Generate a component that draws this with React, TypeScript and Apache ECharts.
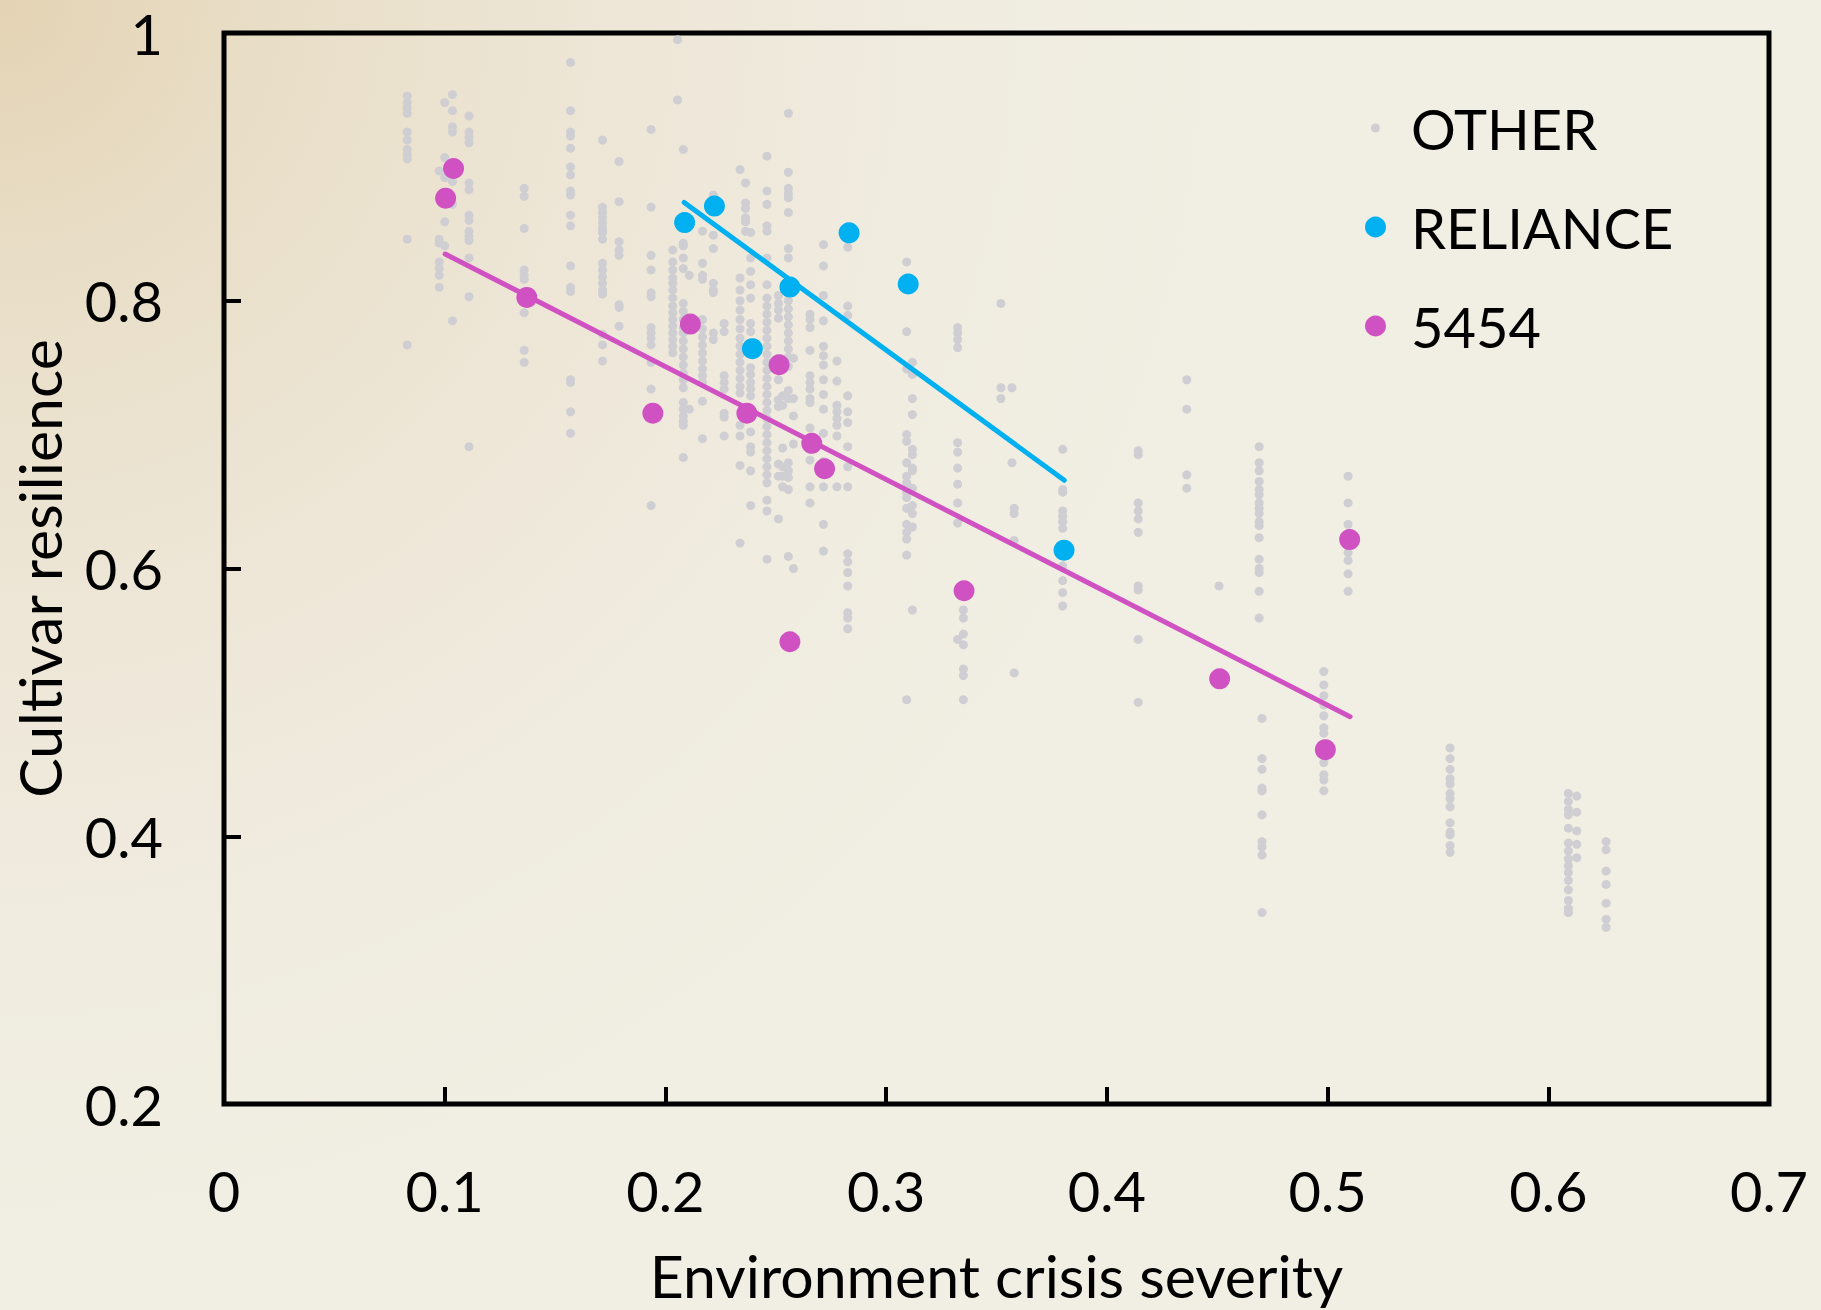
import React, { useEffect, useRef } from "react";
import * as echarts from "echarts";

// ---- Data ----
const seriesNames = ["OTHER", "RELIANCE", "5454"];
const xAxisTitle = "Environment crisis severity";
const yAxisTitle = "Cultivar resilience";

// OTHER: columns of points, [x, list of y values]
const otherColumns: [number, number[]][] = [
  [0.083, [0.953, 0.948, 0.944, 0.94, 0.926, 0.92, 0.913, 0.909, 0.906, 0.846, 0.767]],
  [0.0975, [0.897, 0.846, 0.843, 0.829, 0.824, 0.819, 0.81]],
  [0.1, [0.948, 0.907, 0.892, 0.859, 0.841]],
  [0.1035, [0.954, 0.942, 0.93, 0.926, 0.889, 0.872, 0.785]],
  [0.111, [0.938, 0.926, 0.922, 0.918, 0.888, 0.883, 0.864, 0.86, 0.852, 0.848, 0.845, 0.832, 0.803, 0.691]],
  [0.136, [0.884, 0.878, 0.854, 0.823, 0.819, 0.816, 0.791, 0.763, 0.754]],
  [0.157, [0.978, 0.942, 0.926, 0.923, 0.914, 0.9, 0.894, 0.882, 0.879, 0.864, 0.856, 0.826, 0.81, 0.807, 0.741, 0.739, 0.717, 0.701]],
  [0.1715, [0.92, 0.87, 0.866, 0.862, 0.858, 0.854, 0.851, 0.846, 0.828, 0.823, 0.818, 0.813, 0.808, 0.805, 0.775, 0.767, 0.755]],
  [0.179, [0.904, 0.874, 0.844, 0.838, 0.834, 0.797, 0.795, 0.781]],
  [0.1935, [0.928, 0.87, 0.834, 0.823, 0.806, 0.803, 0.78, 0.776, 0.772, 0.767, 0.754, 0.734, 0.647]],
  [0.2033, [0.838, 0.829, 0.823, 0.817, 0.813, 0.808, 0.802, 0.796, 0.791, 0.786, 0.781, 0.776, 0.771, 0.766, 0.761]],
  [0.2055, [0.995, 0.95]],
  [0.2081, [0.913, 0.843, 0.841, 0.832, 0.824, 0.798, 0.792, 0.786, 0.78, 0.776, 0.77, 0.764, 0.758, 0.752, 0.746, 0.741, 0.735, 0.724, 0.719, 0.714, 0.71, 0.707, 0.683]],
  [0.2108, [0.819, 0.719]],
  [0.2168, [0.852, 0.828, 0.819, 0.816, 0.786, 0.779, 0.773, 0.767, 0.761, 0.755, 0.749, 0.744, 0.739, 0.725, 0.697]],
  [0.2217, [0.879, 0.849, 0.839, 0.813, 0.808, 0.806, 0.776, 0.771]],
  [0.2266, [0.783, 0.777, 0.744, 0.739, 0.734, 0.716, 0.713, 0.699]],
  [0.2338, [0.898, 0.817, 0.808, 0.8, 0.793, 0.786, 0.779, 0.772, 0.766, 0.76, 0.754, 0.748, 0.742, 0.736, 0.731, 0.707, 0.699, 0.677, 0.619]],
  [0.2363, [0.888, 0.873, 0.869, 0.862, 0.859, 0.852]],
  [0.2386, [0.851, 0.832, 0.822, 0.812, 0.802, 0.783, 0.777, 0.75, 0.745, 0.739, 0.734, 0.729, 0.702, 0.691, 0.687, 0.673, 0.647]],
  [0.246, [0.908, 0.882, 0.872, 0.856, 0.852, 0.832, 0.812, 0.802, 0.796, 0.79, 0.784, 0.778, 0.772, 0.766, 0.76, 0.754, 0.748, 0.742, 0.736, 0.73, 0.724, 0.718, 0.712, 0.706, 0.7, 0.694, 0.688, 0.682, 0.676, 0.67, 0.664, 0.651, 0.643, 0.607]],
  [0.2512, [0.804, 0.798, 0.793, 0.787, 0.741, 0.726, 0.721, 0.678, 0.669, 0.637]],
  [0.2531, [0.729, 0.722, 0.69, 0.676, 0.669, 0.661]],
  [0.2557, [0.94, 0.896, 0.884, 0.88, 0.877, 0.866, 0.839, 0.832, 0.8, 0.794, 0.788, 0.782, 0.776, 0.77, 0.764, 0.758, 0.751, 0.733, 0.727, 0.679, 0.673, 0.668, 0.659, 0.609]],
  [0.258, [0.757, 0.727, 0.714, 0.693, 0.6]],
  [0.2655, [0.79, 0.786, 0.78, 0.763, 0.744, 0.739, 0.734, 0.727, 0.724, 0.705, 0.689, 0.681, 0.661, 0.649]],
  [0.2716, [0.842, 0.826, 0.804, 0.785, 0.766, 0.759, 0.752, 0.741, 0.73, 0.719, 0.701, 0.68, 0.661, 0.633, 0.613]],
  [0.2777, [0.755, 0.74, 0.722, 0.717, 0.712, 0.707, 0.699, 0.661]],
  [0.2826, [0.84, 0.796, 0.789, 0.729, 0.717, 0.709, 0.691, 0.676, 0.661, 0.611, 0.605, 0.597, 0.587, 0.567, 0.563, 0.555]],
  [0.3093, [0.829, 0.777, 0.749, 0.7, 0.695, 0.679, 0.669, 0.664, 0.657, 0.653, 0.645, 0.633, 0.627, 0.622, 0.61, 0.502]],
  [0.3119, [0.754, 0.745, 0.727, 0.715, 0.689, 0.685, 0.675, 0.673, 0.66, 0.647, 0.641, 0.631, 0.569]],
  [0.3324, [0.78, 0.776, 0.771, 0.765, 0.694, 0.687, 0.675, 0.663, 0.649, 0.634, 0.547]],
  [0.335, [0.569, 0.563, 0.551, 0.543, 0.525, 0.52, 0.502]],
  [0.352, [0.798, 0.735, 0.727]],
  [0.357, [0.735, 0.679]],
  [0.358, [0.645, 0.641, 0.621, 0.522]],
  [0.38, [0.689, 0.659, 0.657, 0.643, 0.639, 0.635, 0.63, 0.602, 0.591, 0.582, 0.572]],
  [0.4142, [0.688, 0.685, 0.649, 0.643, 0.637, 0.627, 0.587, 0.584, 0.547, 0.5]],
  [0.4362, [0.741, 0.719, 0.67, 0.66]],
  [0.4508, [0.587]],
  [0.469, [0.691, 0.679, 0.673, 0.665, 0.659, 0.655, 0.649, 0.645, 0.641, 0.635, 0.632, 0.623, 0.607, 0.6, 0.597, 0.583, 0.563]],
  [0.4703, [0.488, 0.458, 0.45, 0.436, 0.434, 0.416, 0.396, 0.392, 0.386, 0.343]],
  [0.4983, [0.523, 0.513, 0.505, 0.498, 0.49, 0.481, 0.477, 0.455, 0.446, 0.442, 0.434]],
  [0.5093, [0.669, 0.649, 0.633, 0.612, 0.606, 0.596, 0.583]],
  [0.5555, [0.466, 0.458, 0.45, 0.443, 0.439, 0.432, 0.428, 0.422, 0.41, 0.403, 0.401, 0.393, 0.388]],
  [0.6091, [0.432, 0.426, 0.42, 0.416, 0.406, 0.395, 0.389, 0.383, 0.378, 0.373, 0.367, 0.36, 0.352, 0.346, 0.343]],
  [0.6129, [0.43, 0.418, 0.404, 0.394, 0.384]],
  [0.6262, [0.396, 0.39, 0.374, 0.364, 0.35, 0.338, 0.332]],
];

const relianceX = [0.2087, 0.2222, 0.2394, 0.2564, 0.2832, 0.31, 0.3806];
const relianceY = [0.8584, 0.8707, 0.7642, 0.8102, 0.8507, 0.8125, 0.6137];

const v5454X = [0.1004, 0.104, 0.1372, 0.1943, 0.2113, 0.2369, 0.2515, 0.2564, 0.2663, 0.2721, 0.3353, 0.4511, 0.499, 0.51];
const v5454Y = [0.8766, 0.8988, 0.8025, 0.716, 0.7826, 0.716, 0.7522, 0.5453, 0.6935, 0.6745, 0.5834, 0.5176, 0.4647, 0.6216];

const relianceTrendX = [0.2085, 0.3807];
const relianceTrendY = [0.8734, 0.6659];
const trend5454X = [0.1002, 0.5102];
const trend5454Y = [0.8349, 0.4893];

const xMin = 0, xMax = 0.7, xStep = 0.1;
const yMin = 0.2, yMax = 1, yStep = 0.2;

// ---- Styling ----
const FONT = "Lato";
const GRAY = "#cfced2";
const BLUE = "#00b0f0";
const MAGENTA = "#d052c2";

const zip = (xs: number[], ys: number[]) => xs.map((x, i) => [x, ys[i]]);

export default function App() {
  const ref = useRef<HTMLDivElement>(null);

  useEffect(() => {
    document.body.style.margin = "0";
    if (!ref.current) return;
    const chart = echarts.init(ref.current, undefined, { renderer: "svg" });

    const otherData: number[][] = [];
    otherColumns.forEach(([x, ys]) => ys.forEach((y) => otherData.push([x, y])));

    const fmt = (v: number) => String(Math.round(v * 10) / 10);

    const option: any = {
      animation: false,
      backgroundColor: "transparent",
      textStyle: { fontFamily: FONT },
      grid: {
        left: 224,
        top: 33,
        right: 52,
        bottom: 204,
        show: true,
        borderColor: "#000",
        borderWidth: 5,
        backgroundColor: "transparent",
      },
      xAxis: {
        type: "value",
        min: xMin,
        max: xMax,
        interval: xStep,
        name: xAxisTitle,
        nameLocation: "middle",
        nameGap: 142,
        nameTextStyle: { fontFamily: FONT, fontSize: 59, color: "#000" },
        axisLine: { show: false },
        axisTick: { show: true, inside: true, length: 17, lineStyle: { color: "#000", width: 4 } },
        axisLabel: { margin: 58, fontFamily: FONT, fontSize: 56, color: "#000", formatter: fmt },
        splitLine: { show: false },
      },
      yAxis: {
        type: "value",
        min: yMin,
        max: yMax,
        interval: yStep,
        name: yAxisTitle,
        nameLocation: "middle",
        nameGap: 155,
        nameTextStyle: { fontFamily: FONT, fontSize: 59, color: "#000" },
        axisLine: { show: false },
        axisTick: { show: true, inside: true, length: 17, lineStyle: { color: "#000", width: 4 } },
        axisLabel: { margin: 61, fontFamily: FONT, fontSize: 56, color: "#000", formatter: fmt },
        splitLine: { show: false },
      },
      legend: {
        orient: "vertical",
        left: 1360,
        top: 95,
        itemWidth: 21,
        itemHeight: 21,
        itemGap: 43,
        data: [
          { name: seriesNames[0], icon: "path://M0,0M21,21M6,10.5a4.5,4.5 0 1,0 9,0a4.5,4.5 0 1,0 -9,0Z" },
          { name: seriesNames[1], icon: "circle" },
          { name: seriesNames[2], icon: "circle" },
        ],
        textStyle: { fontFamily: FONT, fontSize: 56, color: "#000", lineHeight: 56, padding: [0, 0, 0, 20] },
      },
      series: [
        {
          name: seriesNames[0],
          type: "scatter",
          data: otherData,
          symbolSize: 9,
          itemStyle: { color: GRAY, opacity: 1 },
          z: 1,
        },
        {
          name: "RELIANCE trend",
          type: "line",
          data: zip(relianceTrendX, relianceTrendY),
          showSymbol: false,
          symbol: "none",
          lineStyle: { color: BLUE, width: 5, cap: "round" },
          itemStyle: { color: BLUE },
          z: 2,
        },
        {
          name: "5454 trend",
          type: "line",
          data: zip(trend5454X, trend5454Y),
          showSymbol: false,
          symbol: "none",
          lineStyle: { color: MAGENTA, width: 5, cap: "round" },
          itemStyle: { color: MAGENTA },
          z: 2,
        },
        {
          name: seriesNames[1],
          type: "scatter",
          data: zip(relianceX, relianceY),
          symbolSize: 21,
          itemStyle: { color: BLUE, opacity: 1 },
          z: 3,
        },
        {
          name: seriesNames[2],
          type: "scatter",
          data: zip(v5454X, v5454Y),
          symbolSize: 21,
          itemStyle: { color: MAGENTA, opacity: 1 },
          z: 3,
        },
      ],
    };

    chart.setOption(option);
    return () => chart.dispose();
  }, []);

  return (
    <div
      ref={ref}
      style={{
        width: 1821,
        height: 1310,
        overflow: "hidden",
        background:
          "radial-gradient(circle at 0 0, #e4d3b4 0px, #e9dfc9 300px, #eee7d8 650px, #f0ece0 950px, #f1eee3 1250px)",
      }}
    />
  );
}
